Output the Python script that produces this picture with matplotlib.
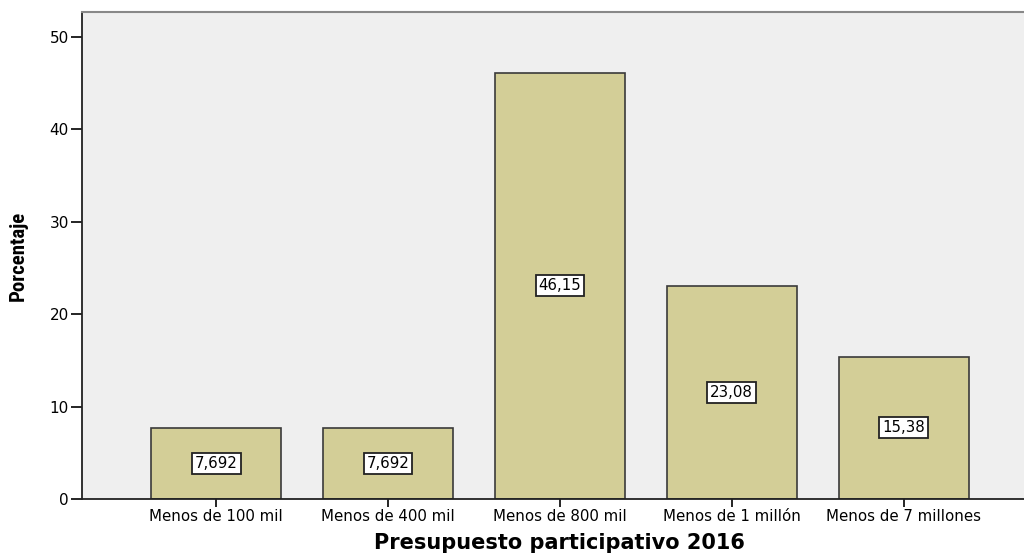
import matplotlib
matplotlib.use("Agg")
import matplotlib.pyplot as plt
from matplotlib import font_manager

categories = ["Menos de 100 mil", "Menos de 400 mil", "Menos de 800 mil",
              "Menos de 1 millón", "Menos de 7 millones"]
percentages = [7.692, 7.692, 46.15, 23.08, 15.38]
value_labels = ["7,692", "7,692", "46,15", "23,08", "15,38"]
y_ticks = [0, 10, 20, 30, 40, 50]

# Prefer a narrow bold face for the vertical axis title when one is installed
names = {f.name for f in font_manager.fontManager.ttflist}
narrow_candidates = ["Liberation Sans Narrow", "Roboto Condensed",
                     "Open Sans Condensed", "DejaVu Sans Condensed"]
narrow = next((n for n in narrow_candidates if n in names), None)
condensed_dejavu = any(f.name == "DejaVu Sans" and f.stretch == "condensed"
                       for f in font_manager.fontManager.ttflist)

fig = plt.figure(figsize=(10.24, 5.53), dpi=100)
ax = fig.add_axes([0.0801, 0.0976, 0.9199, 0.8807])
ax.set_facecolor("#efefef")

x = list(range(len(categories)))
ax.bar(x, percentages, width=0.756, color="#d3ce97",
       edgecolor="#3a3a3a", linewidth=1.2, zorder=2)

for xi, v, lab in zip(x, percentages, value_labels):
    ax.text(xi, v / 2, lab, ha="center", va="center", fontsize=10.8,
            family="DejaVu Sans", zorder=3,
            bbox=dict(boxstyle="square,pad=0.2", facecolor="white",
                      edgecolor="#222222", linewidth=1.3))

ax.set_xlim(-0.78, 4.70)
ax.set_ylim(0, 52.7)
ax.set_yticks(y_ticks)
ax.set_xticks(x)
ax.set_xticklabels(categories, fontsize=10.8)
ax.tick_params(axis="y", labelsize=11, length=8, width=1.2, direction="out",
               pad=1.5)
ax.tick_params(axis="x", length=6, width=1.2, direction="out", pad=1.5)

for side in ("left", "bottom"):
    ax.spines[side].set_color("#222222")
    ax.spines[side].set_linewidth(1.3)
ax.spines["top"].set_color("#888888")
ax.spines["top"].set_linewidth(1.5)
ax.spines["right"].set_visible(False)

ax.set_xlabel("Presupuesto participativo 2016", fontsize=15,
              fontweight="bold", va="center")
ax.xaxis.set_label_coords(0.5064, -0.0903)

if narrow is not None:
    ylab_kw = dict(family=narrow, fontsize=15)
elif condensed_dejavu:
    ylab_kw = dict(family="DejaVu Sans", fontstretch="condensed", fontsize=14)
else:
    ylab_kw = dict(family="DejaVu Sans", fontsize=11)
ax.set_ylabel("Porcentaje", fontweight="bold", va="center", **ylab_kw)
ax.yaxis.set_label_coords(-0.068, 0.5)

fig.savefig("out.png", dpi=100, facecolor="white")
